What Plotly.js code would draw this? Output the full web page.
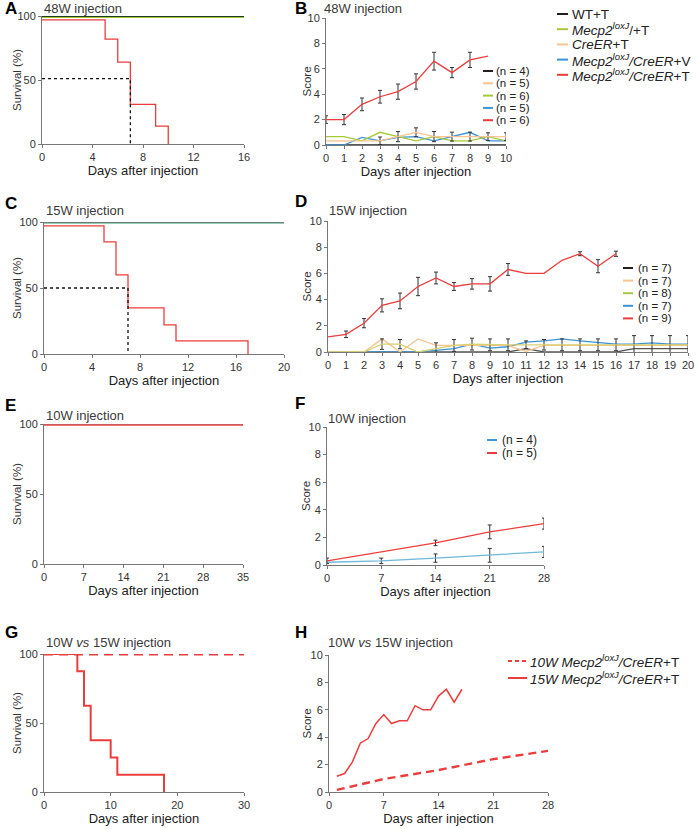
<!DOCTYPE html>
<html>
<head>
<meta charset="utf-8">
<script src="https://cdn.plot.ly/plotly-3.0.1.min.js"></script>
<style>
  html, body { margin: 0; padding: 0; background: #fff; }
  #fig { width: 698px; height: 829px; }
</style>
</head>
<body>
<div id="fig"></div>
<script>
// ---- data ----
// A: 48W survival
const aFlatDays = [0, 16];
const aBlack = [100, 100];
const aGreen = [99, 99];
const aBlue = [99.5, 99.5];
const aKmDays = [0, 5, 6, 7, 9, 10];
const aKmRed = [97, 82, 64, 31, 14, 0];
const aMedX = [0, 7, 7];
const aMedY = [51, 51, 0];

// B: 48W score
const bDays = [0, 1, 2, 3, 4, 5, 6, 7, 8, 9, 10];
const bRed = [2.0, 2.0, 3.2, 3.8, 4.2, 5.0, 6.6, 5.7, 6.7, 7.0];
const bRedErr = [0.3, 0.4, 0.5, 0.5, 0.6, 0.6, 0.7, 0.4, 0.6, null];
const bGreen = [0.66, 0.66, 0.33, 1.0, 0.66, 0.33, 0.66, 0.33, 0.33, 0.66, 0.33];
const bOrange = [0.33, 0.33, 0.33, 0.33, 0.66, 1.0, 0.66, 0.66, 0.66, 0.66, 0.66];
const bOrangeErr = [null, null, null, 0.3, 0.4, 0.35, 0.4, 0.35, 0.35, 0.3, 0.3];
const bBlue = [0, 0, 0.6, 0.33, 0.6, 0.66, 0.33, 0.66, 1.0, 0.33, 0.33];
const bBlack = [0, 0, 0, 0, 0, 0, 0, 0, 0, 0, 0];

// C: 15W survival
const cFlatDays = [0, 20];
const cGray = [100, 100];
const cTeal = [99, 99];
const cKmDays = [0, 5, 6, 7, 10, 11, 17];
const cKmRed = [97, 85, 60, 35, 22, 10, 0];
const cMedX = [0, 7, 7];
const cMedY = [50, 50, 0];

// D: 15W score
const dDays = [0, 1, 2, 3, 4, 5, 6, 7, 8, 9, 10, 11, 12, 13, 14, 15, 16, 17, 18, 19, 20];
const dRed = [1.15, 1.35, 2.2, 3.56, 3.9, 5.0, 5.65, 5.0, 5.2, 5.2, 6.3, 6.0, 6.0, 7.0, 7.5, 6.55, 7.5];
const dRedErr = [null, 0.25, 0.35, 0.5, 0.6, 0.7, 0.45, 0.3, 0.4, 0.55, 0.45, null, null, null, 0.15, 0.5, 0.2];
const dOrange = [0, 0, 0, 1.0, 0, 1.0, 0.5, 0.5, 0.5, 0.5, 0.5, 0.05, 0.5, 0.5, 0.5, 0.5, 0.5, 0.5, 0.5, 0.5, 0.5];
const dGreen = [0, 0, 0, 0.6, 0.6, 0, 0.25, 0.5, 0.6, 0.55, 0.55, 0.55, 0.55, 0.55, 0.55, 0.55, 0.55, 0.55, 0.55, 0.55, 0.55];
const dGreenErr = [null, null, null, 0.4, 0.35, null, 0.45, 0.45, 0.45, 0.45, 0.45, 0.3, 0.4, 0.45, 0.45, 0.45, 0.45, 0.7, 0.7, 0.7, 0.7];
const dBlue = [0, 0, 0, 0, 0, 0, 0.12, 0.25, 0.6, 0.3, 0.4, 0.75, 0.85, 1.0, 0.85, 0.7, 0.6, 0.6, 0.7, 0.6, 0.6];
const dBlack = [0, 0, 0, 0, 0, 0, 0, 0, 0, 0, 0, 0.25, 0, 0, 0, 0, 0, 0.25, 0.25, 0.25, 0.25];

// E: 10W survival
const eDays = [0, 35];
const eBlue = [100, 100];
const eRed = [99.3, 99.3];

// F: 10W score
const fDays = [0, 7, 14, 21, 28];
const fRed = [0.3, 0.95, 1.6, 2.4, 3.0];
const fRedErr = [0.2, null, 0.2, 0.5, 0.4];
const fBlue = [0.2, 0.3, 0.5, 0.7, 0.95];
const fBlueErr = [null, 0.2, 0.3, 0.5, 0.4];

// G: 10W vs 15W survival
const gDays10 = [0, 30];
const gSurv10 = [100, 100];
const gDays15 = [0, 5, 6, 7, 10, 11, 18];
const gSurv15 = [100, 87.5, 62.5, 37.5, 25, 12.5, 0];

// H: 10W vs 15W score
const hDays10 = [1, 7, 14, 21, 28];
const hScore10 = [0.15, 0.95, 1.6, 2.4, 3.0];
const hDays15 = [1, 2, 3, 4, 5, 6, 7, 8, 9, 10, 11, 12, 13, 14, 15, 16, 17];

// legends
const legTop = ['WT+T', '<i>Mecp2<sup>loxJ</sup></i>/+T', '<i>CreER</i>+T',
  '<i>Mecp2<sup>loxJ</sup>/CreER</i>+V', '<i>Mecp2<sup>loxJ</sup>/CreER</i>+T'];
const nB = ['(n = 4)', '(n = 5)', '(n = 6)', '(n = 5)', '(n = 6)'];
const nD = ['(n = 7)', '(n = 7)', '(n = 8)', '(n = 7)', '(n = 9)'];
const nF = ['(n = 4)', '(n = 5)'];
const legH = ['<i>10W Mecp2<sup>loxJ</sup>/CreER</i>+T', '<i>15W Mecp2<sup>loxJ</sup>/CreER</i>+T'];

const BLACK = '#231f20', GREEN = '#a5c93b', ORANGE = '#f8c48f', BLUE = '#3b94d6', RED = '#ec3d3d';
const TEAL = '#8fcfae';

// ---- helpers ----
const W = 698, H = 829;
const FONT = 'Liberation Sans, Arial, sans-serif';
const nan = a => a.map(v => (v === null ? NaN : v));

function tr(n, x, y, color, extra) {
  const sfx = n === 1 ? '' : n;
  return Object.assign({
    type: 'scatter', mode: 'lines', x: x, y: y,
    xaxis: 'x' + sfx, yaxis: 'y' + sfx,
    line: { color: color, width: 1.3 },
    cliponaxis: false, showlegend: false, hoverinfo: 'skip'
  }, extra || {});
}
function err(arr) {
  return { type: 'data', array: nan(arr), visible: true, color: '#333', thickness: 1, width: 2 };
}

const traces = [
  // A
  tr(1, aFlatDays, aBlue, BLUE),
  tr(1, aFlatDays, aGreen, GREEN, { line: { color: GREEN, width: 1.5 } }),
  tr(1, aFlatDays, aBlack, '#1e3a1e', { line: { color: '#1e3a1e', width: 2 } }),
  tr(1, aKmDays, aKmRed, RED, { line: { color: RED, width: 1.3, shape: 'hv' } }),
  tr(1, aMedX, aMedY, '#111', { line: { color: '#111', width: 1.3, dash: 'dot' } }),
  // B
  tr(2, bDays, bBlack, BLACK),
  tr(2, bDays, bBlue, BLUE),
  tr(2, bDays, bGreen, GREEN),
  tr(2, bDays, bOrange, ORANGE, { error_y: err(bOrangeErr) }),
  tr(2, bDays.slice(0, bRed.length), bRed, RED, { error_y: err(bRedErr) }),
  // C
  tr(3, cFlatDays, cTeal, TEAL, { line: { color: TEAL, width: 1.5 } }),
  tr(3, cFlatDays, cGray, '#556', { line: { color: '#556', width: 1.5 } }),
  tr(3, cKmDays, cKmRed, RED, { line: { color: RED, width: 1.3, shape: 'hv' } }),
  tr(3, cMedX, cMedY, '#111', { line: { color: '#111', width: 1.3, dash: 'dot' } }),
  // D
  tr(4, dDays, dBlack, '#555'),
  tr(4, dDays, dBlue, BLUE),
  tr(4, dDays, dOrange, ORANGE),
  tr(4, dDays, dGreen, '#d8d070', { error_y: err(dGreenErr) }),
  tr(4, dDays.slice(0, dRed.length), dRed, RED, { error_y: err(dRedErr) }),
  // E
  tr(5, eDays, eBlue, BLUE, { line: { color: BLUE, width: 1.5 } }),
  tr(5, eDays, eRed, RED, { line: { color: RED, width: 2 }, opacity: 0.75 }),
  // F
  tr(6, fDays, fBlue, '#6fb8d8', { error_y: err(fBlueErr) }),
  tr(6, fDays, fRed, RED, { error_y: err(fRedErr) }),
  // G
  tr(7, gDays10, gSurv10, RED, { line: { color: RED, width: 3, dash: '9px,6px' } }),
  tr(7, gDays15, gSurv15, RED, { line: { color: RED, width: 2, shape: 'hv' } }),
  // H
  tr(8, hDays10, hScore10, RED, { line: { color: RED, width: 2.4, dash: '8px,5px' } }),
  tr(8, hDays15, dRed, RED, { line: { color: RED, width: 1.5 } })
];

const panels = [
  { px: [42, 244], py: [16, 144], xr: [0, 16], dx: 4, yr: [0, 100], dy: 50, yt: 'Survival (%)' },
  { px: [326, 506], py: [18, 145], xr: [0, 10], dx: 1, yr: [0, 10], dy: 2, yt: 'Score' },
  { px: [44, 284], py: [222, 354], xr: [0, 20], dx: 4, yr: [0, 100], dy: 50, yt: 'Survival (%)' },
  { px: [328, 688], py: [221, 352], xr: [0, 20], dx: 1, yr: [0, 10], dy: 2, yt: 'Score' },
  { px: [44, 243], py: [424, 564], xr: [0, 35], dx: 7, yr: [0, 100], dy: 50, yt: 'Survival (%)' },
  { px: [327, 544], py: [427, 565], xr: [0, 28], dx: 7, yr: [0, 10], dy: 2, yt: 'Score' },
  { px: [44, 244], py: [654, 792], xr: [0, 30], dx: 10, yr: [0, 100], dy: 50, yt: 'Survival (%)' },
  { px: [329, 548], py: [655, 792], xr: [0, 28], dx: 7, yr: [0, 10], dy: 2, yt: 'Score' }
];
const yTitleX = [17, 306, 17, 306, 17, 306, 17, 306];

const layout = {
  width: W, height: H,
  margin: { l: 0, r: 0, t: 0, b: 0 },
  paper_bgcolor: '#fff', plot_bgcolor: 'rgba(0,0,0,0)',
  font: { family: FONT, size: 11, color: '#333' },
  showlegend: false,
  annotations: [], shapes: []
};

panels.forEach((p, i) => {
  const n = i + 1, sfx = n === 1 ? '' : n;
  const common = {
    showline: true, linecolor: '#777', linewidth: 1,
    ticks: 'outside', ticklen: 3, tickcolor: '#777', tickwidth: 1,
    showgrid: false, zeroline: false, fixedrange: true,
    tickfont: { size: 11, color: '#333' }
  };
  layout['xaxis' + sfx] = Object.assign({}, common, {
    domain: [p.px[0] / W, p.px[1] / W], anchor: 'y' + sfx,
    range: p.xr, dtick: p.dx, tick0: 0,
    title: { text: 'Days after injection', font: { size: 13, color: '#222' }, standoff: 2 }
  });
  layout['yaxis' + sfx] = Object.assign({}, common, {
    domain: [1 - p.py[1] / H, 1 - p.py[0] / H], anchor: 'x' + sfx,
    range: p.yr, dtick: p.dy, tick0: 0
  });
  // y axis title, placed close to the tick labels as in the figure
  layout.annotations.push({
    xref: 'paper', yref: 'paper', x: yTitleX[i] / W, y: 1 - (p.py[0] + p.py[1]) / 2 / H,
    xanchor: 'center', yanchor: 'middle', textangle: -90, showarrow: false,
    text: p.yt, font: { family: FONT, size: 11.5, color: '#333' }
  });
});

// panel letters and titles
const letters = ['A', 'B', 'C', 'D', 'E', 'F', 'G', 'H'];
const letterPos = [[3, 9], [293, 9], [3, 203], [293, 202], [3, 405], [293, 404], [3, 632], [293, 632]];
const titles = ['48W injection', '48W injection', '15W injection', '15W injection',
  '10W injection', '10W injection', '10W <i>vs</i> 15W injection', '10W <i>vs</i> 15W injection'];
const titlePos = [[42, 8], [322, 8], [44, 211], [327, 210], [44, 415], [326, 418], [44, 642], [326, 642]];

letters.forEach((t, i) => {
  layout.annotations.push({
    xref: 'paper', yref: 'paper', x: letterPos[i][0] / W, y: 1 - letterPos[i][1] / H,
    xanchor: 'left', yanchor: 'middle', showarrow: false, text: '<b>' + t + '</b>',
    font: { family: FONT, size: 17, color: '#000' }
  });
  layout.annotations.push({
    xref: 'paper', yref: 'paper', x: titlePos[i][0] / W, y: 1 - titlePos[i][1] / H,
    xanchor: 'left', yanchor: 'middle', showarrow: false, text: titles[i],
    font: { family: FONT, size: 13, color: '#3a3a3a' }
  });
});

function legend(labels, colors, x0, y0, step, len, gap, size, dashes, widths) {
  labels.forEach((lab, i) => {
    const y = 1 - (y0 + i * step) / H;
    layout.shapes.push({
      type: 'line', xref: 'paper', yref: 'paper',
      x0: x0 / W, x1: (x0 + len) / W, y0: y, y1: y,
      line: { color: colors[i], width: widths ? widths[i] : 2, dash: dashes ? dashes[i] : 'solid' }
    });
    layout.annotations.push({
      xref: 'paper', yref: 'paper', x: (x0 + len + gap) / W, y: y,
      xanchor: 'left', yanchor: 'middle', showarrow: false, text: lab, borderpad: 0,
      font: { family: FONT, size: size, color: '#222' }
    });
  });
}

legend(legTop, [BLACK, GREEN, ORANGE, BLUE, RED], 557, 14, 15.2, 11, 3, 13.5);
legend(nB, [BLACK, ORANGE, GREEN, BLUE, RED], 483, 71, 12.3, 10, 2, 11.5);
legend(nD, [BLACK, ORANGE, GREEN, BLUE, RED], 623, 268, 12.6, 10, 4, 11.5);
legend(nF, [BLUE, RED], 487, 440, 13, 10, 4, 12);
legend(legH, [RED, RED], 508, 661, 17, 19, 2, 13.5, ['4px,3px', 'solid'], [2, 2]);

Plotly.newPlot('fig', traces, layout, { staticPlot: true });
</script>
</body>
</html>
